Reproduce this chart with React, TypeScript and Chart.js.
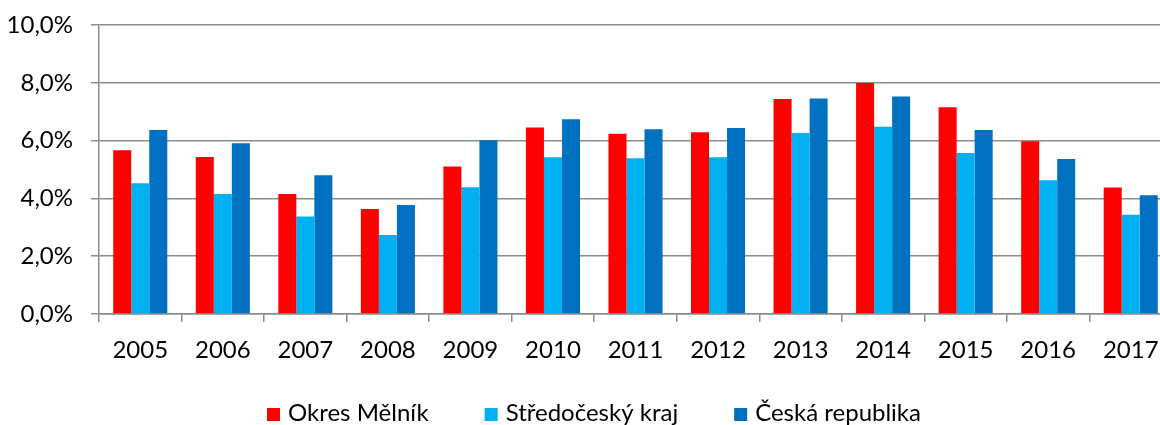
import React, { useEffect, useRef } from "react";
import { Chart, registerables } from "chart.js";

Chart.register(...registerables);

const categories = ["2005", "2006", "2007", "2008", "2009", "2010", "2011", "2012", "2013", "2014", "2015", "2016", "2017"];
const okresMelnik = [5.67, 5.43, 4.15, 3.63, 5.1, 6.45, 6.24, 6.29, 7.44, 7.99, 7.15, 5.98, 4.38];
const stredocesky = [4.52, 4.15, 3.37, 2.73, 4.39, 5.42, 5.39, 5.42, 6.26, 6.48, 5.57, 4.63, 3.43];
const ceskaRepublika = [6.37, 5.91, 4.8, 3.77, 6.01, 6.74, 6.39, 6.44, 7.46, 7.53, 6.37, 5.36, 4.11];
const seriesNames = ["Okres Mělník", "Středočeský kraj", "Česká republika"];
const seriesColors = ["#FF0000", "#00B0F0", "#0070C0"];
const yMin = 0;
const yMax = 10;
const yStep = 2;

const FONT = "Lato, 'Open Sans', sans-serif";
const GRID = "#8c8c8c";

const bottomLegend = {
  id: "bottomLegend",
  afterDraw(chart: any) {
    const ctx = chart.ctx;
    const box = 13;
    const boxGap = 8;
    const itemGap = 56;
    ctx.save();
    ctx.font = `24px ${FONT}`;
    const items = chart.data.datasets.map((d: any) => ({
      text: d.label,
      color: d.backgroundColor,
      w: ctx.measureText(d.label).width,
    }));
    const total =
      items.reduce((s: number, it: any) => s + box + boxGap + it.w, 0) + itemGap * (items.length - 1);
    let x = chart.width / 2 + 4 - total / 2;
    const baseline = 421;
    items.forEach((it: any) => {
      ctx.fillStyle = it.color;
      ctx.fillRect(x, baseline - box, box, box);
      x += box + boxGap;
      ctx.fillStyle = "#000";
      ctx.textBaseline = "alphabetic";
      ctx.textAlign = "left";
      ctx.fillText(it.text, x, baseline);
      x += it.w + itemGap;
    });
    ctx.restore();
  },
};

export default function App() {
  const ref = useRef<HTMLCanvasElement | null>(null);
  useEffect(() => {
    if (!ref.current) return;
    const values = [okresMelnik, stredocesky, ceskaRepublika];
    const chart = new Chart(ref.current, {
      type: "bar",
      data: {
        labels: categories,
        datasets: values.map((v, i) => ({
          label: seriesNames[i],
          data: v,
          backgroundColor: seriesColors[i],
          borderWidth: 0,
          categoryPercentage: 0.655,
          barPercentage: 1,
        })),
      },
      options: {
        animation: false,
        responsive: false,
        maintainAspectRatio: false,
        layout: { padding: { top: 25, right: 8, left: 0, bottom: 51 } },
        plugins: {
          tooltip: { enabled: false },
          legend: { display: false },
        },
        scales: {
          x: {
            grid: {
              drawOnChartArea: false,
              drawTicks: true,
              tickLength: 8,
              color: GRID,
              lineWidth: 1.5,
              offset: true,
            },
            border: { color: GRID, width: 1.5 },
            ticks: {
              color: "#000",
              padding: 14,
              maxRotation: 0,
              font: { family: FONT, size: 24 },
            },
            afterFit: (s: any) => {
              s.height = 60;
              s.paddingLeft = 0;
              s.paddingRight = 0;
            },
          },
          y: {
            min: yMin,
            max: yMax,
            grid: {
              color: GRID,
              lineWidth: 1.5,
              tickLength: 8,
              drawTicks: true,
            },
            border: { color: GRID, width: 1.5 },
            ticks: {
              stepSize: yStep,
              color: "#000",
              padding: 18,
              font: { family: FONT, size: 24 },
              callback: (v: any) => Number(v).toFixed(1).replace(".", ",") + "%",
            },
            afterFit: (s: any) => {
              s.width = 99;
              s.paddingTop = 0;
              s.paddingBottom = 0;
            },
          },
        },
      },
      plugins: [bottomLegend],
    });
    return () => chart.destroy();
  }, []);
  return (
    <div style={{ position: "fixed", left: 0, top: 0, width: 1160, height: 425, overflow: "hidden", background: "#fff" }}>
      <canvas ref={ref} width={1180} height={425} style={{ display: "block", width: 1180, height: 425 }} />
    </div>
  );
}
